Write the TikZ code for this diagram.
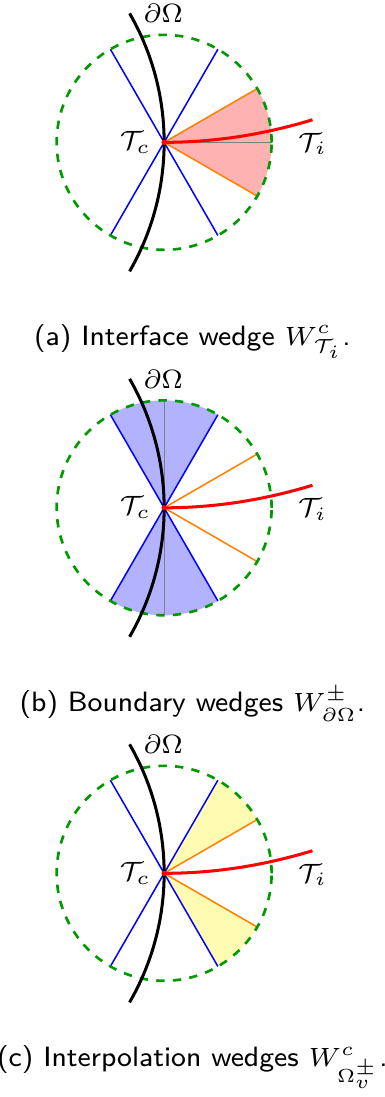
\documentclass[tikz,border=0pt]{standalone}
\usepackage{amsmath}
\usepackage{amssymb}

\begin{document}
\begin{tikzpicture}[ font=\fontsize{7.4}{9}\selectfont, bnd/.style={black, thick},
      iface/.style={red, thick}, ball/.style={green!60!black, line
      width=0.7pt, dash pattern=on 2.2pt off 2.2pt}, ray/.style={blue,
      line width=0.4pt}, cut/.style={orange, line width=0.4pt},
      mid/.style={gray, line width=0.3pt}, caption/.style={font=\fontsize{7.4}{9}\selectfont\sffamily,
      anchor=base} ]

    \useasboundingbox (-1.527,-8.881) rectangle (2.054,1.324);

    % (a) interface wedge
    \begin{scope}
      \coordinate (ca) at (0,0); \coordinate (ia) at (1.38,0.21);
      \fill[red!30] (ca) -- (-30:1) arc[start angle=-30, end angle=30,
        radius=1] -- cycle;
      \draw[mid] (ca) -- (0:1);
      \draw[ray] (60:1) -- (240:1) (120:1) -- (300:1);
      \draw[cut] (30:1) -- (ca) -- (-30:1);
      \draw[ball] (ca) circle[radius=1];
      \draw[bnd] (-0.3215,-1.2) arc[start angle=-30, end angle=30,
        radius=2.4] node[right] (oma) {$\partial\Omega$};
      \draw[iface] (ca) .. controls (0.46,0) and (0.92,0.07) .. (ia);
      \fill[red] (ca) circle[radius=0.025];
      \node[left] (tca) at (ca) {$\mathcal{T}_c$};
      \node[below] (tia) at (ia) {$\mathcal{T}_i$};
    \end{scope}
    \node[caption] (capa) at (0.263,-1.886) {(a) Interface wedge
      $W^c_{\mathcal{T}_i}$.};

    % (b) boundary wedges
    \begin{scope}[yshift=-3.4cm]
      \coordinate (cb) at (0,0); \coordinate (ib) at (1.38,0.21);
      \fill[blue!30] (cb) -- (60:1) arc[start angle=60, end angle=120,
        radius=1] -- cycle;
      \fill[blue!30] (cb) -- (240:1) arc[start angle=240, end angle=300,
        radius=1] -- cycle;
      \draw[mid] (90:1) -- (270:1);
      \draw[ray] (60:1) -- (240:1) (120:1) -- (300:1);
      \draw[cut] (30:1) -- (cb) -- (-30:1);
      \draw[ball] (cb) circle[radius=1];
      \draw[bnd] (-0.3215,-1.2) arc[start angle=-30, end angle=30,
        radius=2.4] node[right] (omb) {$\partial\Omega$};
      \draw[iface] (cb) .. controls (0.46,0) and (0.92,0.07) .. (ib);
      \fill[red] (cb) circle[radius=0.025];
      \node[left] (tcb) at (cb) {$\mathcal{T}_c$};
      \node[below] (tib) at (ib) {$\mathcal{T}_i$};
    \end{scope}
    \node[caption] (capb) at (0.263,-5.297) {(b) Boundary wedges
      $W^{\pm}_{\partial\Omega}$.};

    % (c) interpolation wedges
    \begin{scope}[yshift=-6.8cm]
      \coordinate (cc) at (0,0); \coordinate (ic) at (1.38,0.21);
      \fill[yellow!30] (cc) -- (30:1) arc[start angle=30, end angle=60,
        radius=1] -- cycle;
      \fill[yellow!30] (cc) -- (-60:1) arc[start angle=-60, end angle=-30,
        radius=1] -- cycle;
      \draw[ray] (60:1) -- (240:1) (120:1) -- (300:1);
      \draw[cut] (30:1) -- (cc) -- (-30:1);
      \draw[ball] (cc) circle[radius=1];
      \draw[bnd] (-0.3215,-1.2) arc[start angle=-30, end angle=30,
        radius=2.4] node[right] (omc) {$\partial\Omega$};
      \draw[iface] (cc) .. controls (0.46,0) and (0.92,0.07) .. (ic);
      \fill[red] (cc) circle[radius=0.025];
      \node[left] (tcc) at (cc) {$\mathcal{T}_c$};
      \node[below] (tic) at (ic) {$\mathcal{T}_i$};
    \end{scope}
    \node[caption] (capc) at (0.263,-8.599) {(c) Interpolation wedges
      $W^c_{\Omega_v^{\pm}}$.};

  \end{tikzpicture}
\end{document}
